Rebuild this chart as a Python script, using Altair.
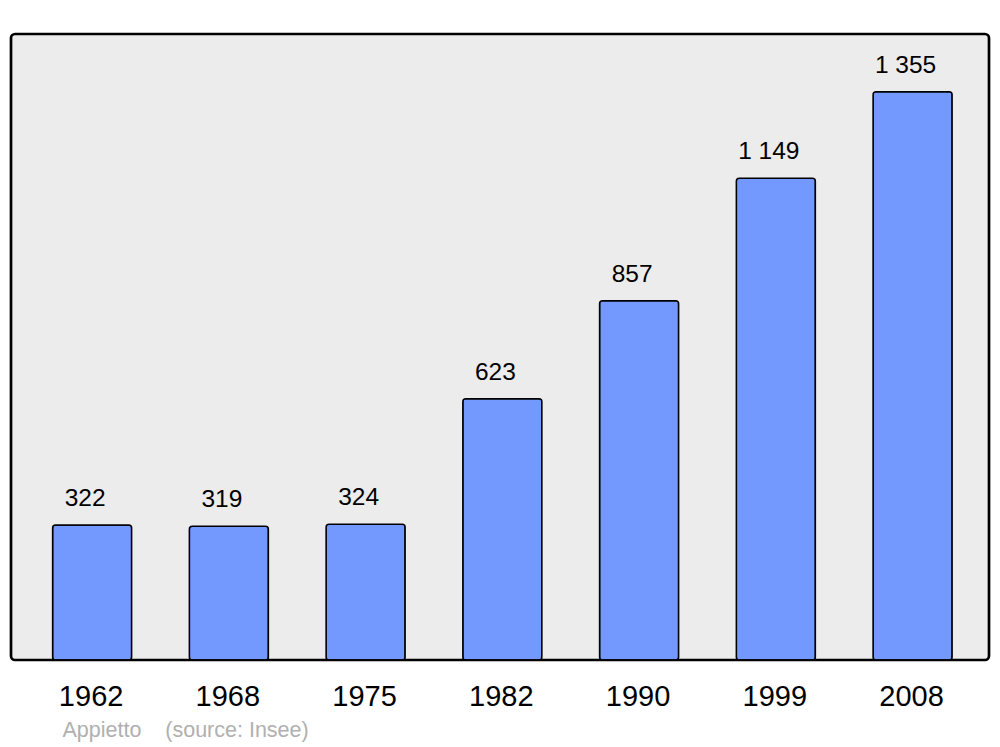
import altair as alt
import pandas as pd

years = ["1962", "1968", "1975", "1982", "1990", "1999", "2008"]
population = [322, 319, 324, 623, 857, 1149, 1355]
labels = ["322", "319", "324", "623", "857", "1 149", "1 355"]
footer = "Appietto\u00a0\u00a0\u00a0\u00a0(source: Insee)"

df = pd.DataFrame({"year": years, "pop": population, "label": labels})

FONT = "Liberation Sans"

x = alt.X(
    "year:N",
    sort=years,
    scale=alt.Scale(paddingInner=0.422, paddingOuter=0.287, align=0.53),
    axis=alt.Axis(
        title=footer,
        titleFont=FONT,
        titleFontSize=21.5,
        titleFontWeight="normal",
        titleColor="#b0b0b0",
        titleAlign="left",
        titleAnchor="start",
        titleBaseline="alphabetic",
        titleX=51,
        titleY=76,
        labelFont=FONT,
        labelFontSize=29,
        labelColor="#000000",
        labelAngle=0,
        labelBaseline="alphabetic",
        labelPadding=45,
        labelOffset=-1,
        domain=False,
        ticks=False,
        grid=False,
    ),
)
y = alt.Y(
    "pop:Q",
    scale=alt.Scale(domain=[0, 1493], nice=False, zero=True),
    axis=None,
)

bars = alt.Chart(df).mark_bar(
    color="#7399ff",
    stroke="#000000",
    strokeWidth=1.5,
    cornerRadius=3,
).encode(x=x, y=y)

text = alt.Chart(df).mark_text(
    font=FONT,
    fontSize=24.5,
    color="#000000",
    baseline="alphabetic",
    align="center",
    dy=-19,
    dx=-7,
).encode(x=x, y=y, text="label:N")

chart = (
    alt.layer(bars, text)
    .properties(
        width=978,
        height=626,
        autosize=alt.AutoSizeParams(type="none"),
        padding={"left": 3, "top": 26, "right": 3, "bottom": 86},
        background="#ffffff",
    )
    .configure_view(
        fill="#ececec",
        stroke="#000000",
        strokeWidth=2.7,
        cornerRadius=4,
    )
)

chart.save("out.html", embed_options={"renderer": "svg", "actions": False})
